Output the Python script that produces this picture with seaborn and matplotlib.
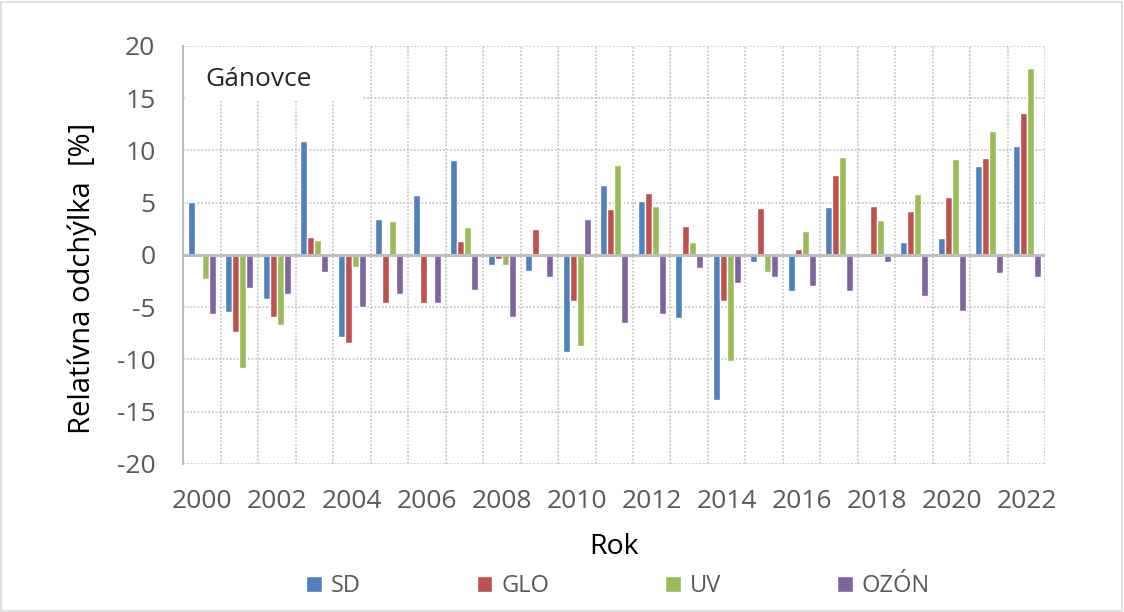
import pandas as pd
import matplotlib
matplotlib.use('Agg')
import matplotlib.pyplot as plt
import seaborn as sns
from matplotlib.patches import Rectangle

# Data
years = list(range(2000, 2023))
sd = [5.1, -5.5, -4.2, 10.9, -7.9, 3.4, 5.7, 9.1, -1.0, -1.5, -9.3, 6.7,
      5.2, -6.0, -13.9, -0.7, -3.5, 4.6, 0.0, 1.2, 1.6, 8.5, 10.4]
glo = [-0.2, -7.4, -5.9, 1.7, -8.4, -4.6, -4.6, 1.3, -0.4, 2.5, -4.4, 4.4,
       5.9, 2.8, -4.4, 4.5, 0.6, 7.6, 4.7, 4.2, 5.5, 9.3, 13.6]
uv = [-2.3, -10.8, -6.7, 1.4, -1.2, 3.2, 0.2, 2.7, -1.0, 0.0, -8.7, 8.6,
      4.7, 1.2, -10.2, -1.6, 2.3, 9.4, 3.3, 5.8, 9.2, 11.9, 17.9]
ozon = [-5.7, -3.2, -3.7, -1.6, -5.0, -3.7, -4.6, -3.4, -5.9, -2.1, 3.4, -6.5,
        -5.7, -1.3, -2.7, -2.1, -3.0, -3.5, -0.7, -3.9, -5.4, -1.7, -2.1]
series = ["SD", "GLO", "UV", "OZÓN"]
colors = ["#4F81BD", "#C0504D", "#9BBB59", "#8064A2"]

df = pd.DataFrame({"Rok": years, "SD": sd, "GLO": glo, "UV": uv, "OZÓN": ozon})
long = df.melt(id_vars="Rok", var_name="series", value_name="value")

sns.set_style("white")
plt.rcParams['font.family'] = ['Open Sans', 'DejaVu Sans']
plt.rcParams['axes.unicode_minus'] = False

fig = plt.figure(figsize=(11.24, 6.12), dpi=100)
ax = fig.add_axes([0.163, 0.242, 0.767, 0.683])

sns.barplot(data=long, x="Rok", y="value", hue="series", hue_order=series,
            palette=colors, width=0.75, saturation=1, ax=ax, legend=True)

ax.set_ylim(-20, 20)
ax.set_yticks(range(-20, 21, 5))
ax.set_xlim(-0.5, len(years) - 0.5)
ax.set_xticks(range(0, len(years), 2))
ax.set_xticklabels([str(y) for y in years[::2]])
ax.set_xticks([i + 0.5 for i in range(-1, len(years))], minor=True)
ax.tick_params(axis='both', which='both', length=0, labelsize=19, colors="#595959")
ax.tick_params(axis='x', pad=18)
ax.tick_params(axis='y', pad=20)

grid_kw = dict(color="#C8C8C8", linestyle=(0, (1, 1)), linewidth=1.3)
ax.grid(axis='y', which='major', **grid_kw)
ax.grid(axis='x', which='minor', **grid_kw)
ax.grid(axis='x', which='major', visible=False)
ax.set_axisbelow(True)
ax.axhline(0, color="#BFBFBF", linewidth=2.2, zorder=1.5)

for side in ["top", "right", "bottom"]:
    ax.spines[side].set_visible(False)
ax.spines["left"].set_color("#BFBFBF")
ax.spines["left"].set_linewidth(1.5)

ax.set_xlabel("Rok", fontsize=20.5, labelpad=14, color="black")
ax.set_ylabel("Relatívna odchýlka  [%]", fontsize=21, color="black")
ax.yaxis.set_label_coords(-0.10, 0.443)

# white label box in the top-left corner
ax.add_patch(Rectangle((0.003, 0.868), 0.205, 0.13, transform=ax.transAxes,
                       facecolor="white", edgecolor="none", zorder=2))
ax.text(0.026, 0.92, "Gánovce", transform=ax.transAxes, fontsize=19,
        va="center", ha="left", zorder=3)

ax.get_legend().remove()
handles = [Rectangle((0, 0), 1, 1, facecolor=c) for c in colors]
fig.legend(handles, series, loc="center", bbox_to_anchor=(0.550, 0.042), ncol=4,
           frameon=False, fontsize=17, labelcolor="#595959",
           handlelength=0.65, handleheight=0.65,
           handletextpad=0.4, columnspacing=4.9)

fig.patches.append(Rectangle((0.001, 0.002), 0.997, 0.995, transform=fig.transFigure,
                             facecolor="none", edgecolor="#D9D9D9", linewidth=1.2))

fig.savefig("out.png", dpi=100)
